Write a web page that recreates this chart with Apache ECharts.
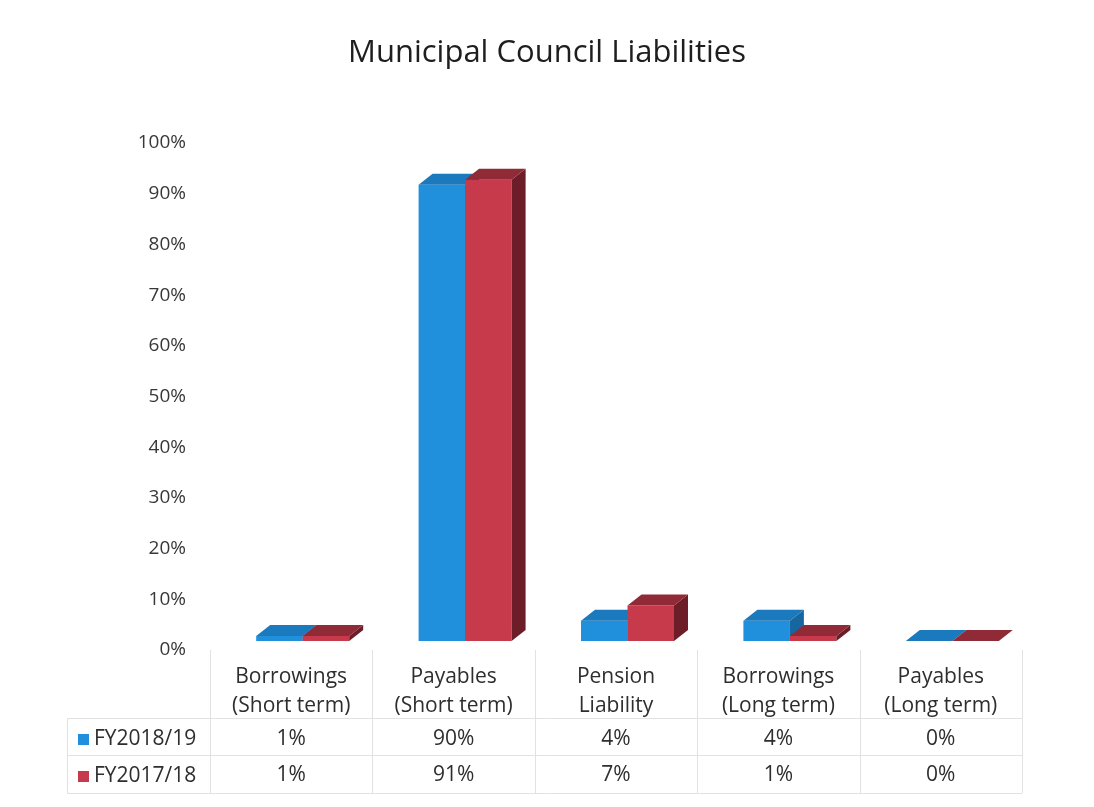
<!DOCTYPE html>
<html>
<head>
<meta charset="utf-8">
<script src="https://cdn.jsdelivr.net/npm/echarts@6/dist/echarts.min.js"></script>
<style>
  html, body { margin: 0; padding: 0; background: #ffffff; }
  #chart { width: 1094px; height: 807px; }
</style>
</head>
<body>
<div id="chart"></div>
<script>
// Liability categories (two-line labels under the plot)
const categories = [
  'Borrowings\n(Short term)',
  'Payables\n(Short term)',
  'Pension\nLiability',
  'Borrowings\n(Long term)',
  'Payables\n(Long term)'
];
// Share of total liabilities, in percent
const seriesNames = ['FY2018/19', 'FY2017/18'];
const fy2018_19 = [1, 90, 4, 4, 0];
const fy2017_18 = [1, 91, 7, 1, 0];
// Value axis
const yMin = 0;
const yMax = 100;
const yStep = 10;

// Layout
const W = 1094, H = 807;
const GRID = { left: 210, right: 72, top: 143, bottom: 157 };
const FONT = '"Open Sans", Lato, sans-serif';
const TABLE = { left: 67, rows: [718, 755, 793], colTop: 650 };

// Colours of the three visible faces of each box
const PALETTE = [
  { front: '#2190dc', top: '#1b79bd', side: '#16679f' },
  { front: '#c73a4b', top: '#8f2a36', side: '#6c1d27' }
];

// Pseudo-3D box geometry (front face width, offset from band centre, depth)
const BOX = { w: 46.5, shift: 11.5, lift: 9, dx: 14, dy: 11 };

function boxRenderer(slot, colors) {
  return function (params, api) {
    const idx = api.value(0);
    const v = api.value(1);
    const base = api.coord([idx, 0]);
    const top = api.coord([idx, v]);
    const x0 = base[0] + BOX.shift + (slot === 0 ? -BOX.w : 0);
    const x1 = x0 + BOX.w;
    const yb = base[1] - BOX.lift;
    const yt = top[1] - BOX.lift;
    const dx = BOX.dx, dy = BOX.dy;
    return {
      type: 'group',
      children: [
        { type: 'polygon', shape: { points: [[x0, yb], [x1, yb], [x1, yt], [x0, yt]] },
          style: { fill: colors.front } },
        { type: 'polygon', shape: { points: [[x1, yb], [x1 + dx, yb - dy], [x1 + dx, yt - dy], [x1, yt]] },
          style: { fill: colors.side } },
        { type: 'polygon', shape: { points: [[x0, yt], [x1, yt], [x1 + dx, yt - dy], [x0 + dx, yt - dy]] },
          style: { fill: colors.top } }
      ]
    };
  };
}

const seriesValues = [fy2018_19, fy2017_18];

// Data-table lines below the plot
function tableLines() {
  const x0 = GRID.left, x1 = W - GRID.right;
  const band = (x1 - x0) / categories.length;
  const stroke = { stroke: '#e2e2e2', lineWidth: 1 };
  const els = [];
  TABLE.rows.forEach(function (y) {
    els.push({ type: 'line', shape: { x1: TABLE.left, y1: y + 0.5, x2: x1, y2: y + 0.5 }, style: stroke, silent: true });
  });
  els.push({ type: 'line', shape: { x1: TABLE.left + 0.5, y1: TABLE.rows[0], x2: TABLE.left + 0.5, y2: TABLE.rows[2] }, style: stroke, silent: true });
  for (let i = 0; i <= categories.length; i++) {
    const x = Math.round(x0 + i * band) + 0.5;
    els.push({ type: 'line', shape: { x1: x, y1: TABLE.colTop, x2: x, y2: TABLE.rows[2] }, style: stroke, silent: true });
  }
  return els;
}

const chart = echarts.init(document.getElementById('chart'), null, { renderer: 'canvas' });

const labelBase = { fontFamily: FONT, fontSize: 21, color: '#2e2e2e', interval: 0 };

chart.setOption({
  backgroundColor: '#ffffff',
  animation: false,
  title: {
    text: 'Municipal Council Liabilities',
    left: 'center',
    top: 38,
    padding: 0,
    textStyle: { fontFamily: FONT, fontSize: 31, fontWeight: 'normal', color: '#1e1e1e' }
  },
  legend: {
    data: seriesNames,
    orient: 'vertical',
    left: 78,
    top: 729,
    icon: 'rect',
    itemWidth: 11,
    itemHeight: 11,
    itemGap: 16,
    padding: 0,
    textStyle: { fontFamily: FONT, fontSize: 21, color: '#2e2e2e', lineHeight: 20 }
  },
  grid: { left: GRID.left, right: GRID.right, top: GRID.top, bottom: GRID.bottom, containLabel: false },
  xAxis: [
    {
      type: 'category', data: categories, position: 'bottom',
      axisLine: { show: false }, axisTick: { show: false }, splitLine: { show: false },
      axisLabel: Object.assign({}, labelBase, { margin: 13, lineHeight: 29 })
    },
    {
      type: 'category', data: categories, position: 'bottom',
      axisLine: { show: false }, axisTick: { show: false }, splitLine: { show: false },
      axisLabel: Object.assign({}, labelBase, {
        margin: 75, lineHeight: 29,
        formatter: function (val, i) { return fy2018_19[i] + '%'; }
      })
    },
    {
      type: 'category', data: categories, position: 'bottom',
      axisLine: { show: false }, axisTick: { show: false }, splitLine: { show: false },
      axisLabel: Object.assign({}, labelBase, {
        margin: 111, lineHeight: 29,
        formatter: function (val, i) { return fy2017_18[i] + '%'; }
      })
    }
  ],
  yAxis: {
    type: 'value',
    min: yMin,
    max: yMax,
    interval: yStep,
    axisLine: { show: false },
    axisTick: { show: false },
    splitLine: { show: false },
    axisLabel: {
      formatter: '{value}%',
      fontFamily: FONT,
      fontSize: 19,
      color: '#383838',
      margin: 24
    }
  },
  series: seriesNames.map(function (name, s) {
    return {
      name: name,
      type: 'custom',
      xAxisIndex: 0,
      renderItem: boxRenderer(s, PALETTE[s]),
      itemStyle: { color: PALETTE[s].front },
      encode: { x: 0, y: 1 },
      data: seriesValues[s].map(function (v, i) { return [i, v]; }),
      z: 2 + s
    };
  }),
  graphic: tableLines()
});
</script>
</body>
</html>
